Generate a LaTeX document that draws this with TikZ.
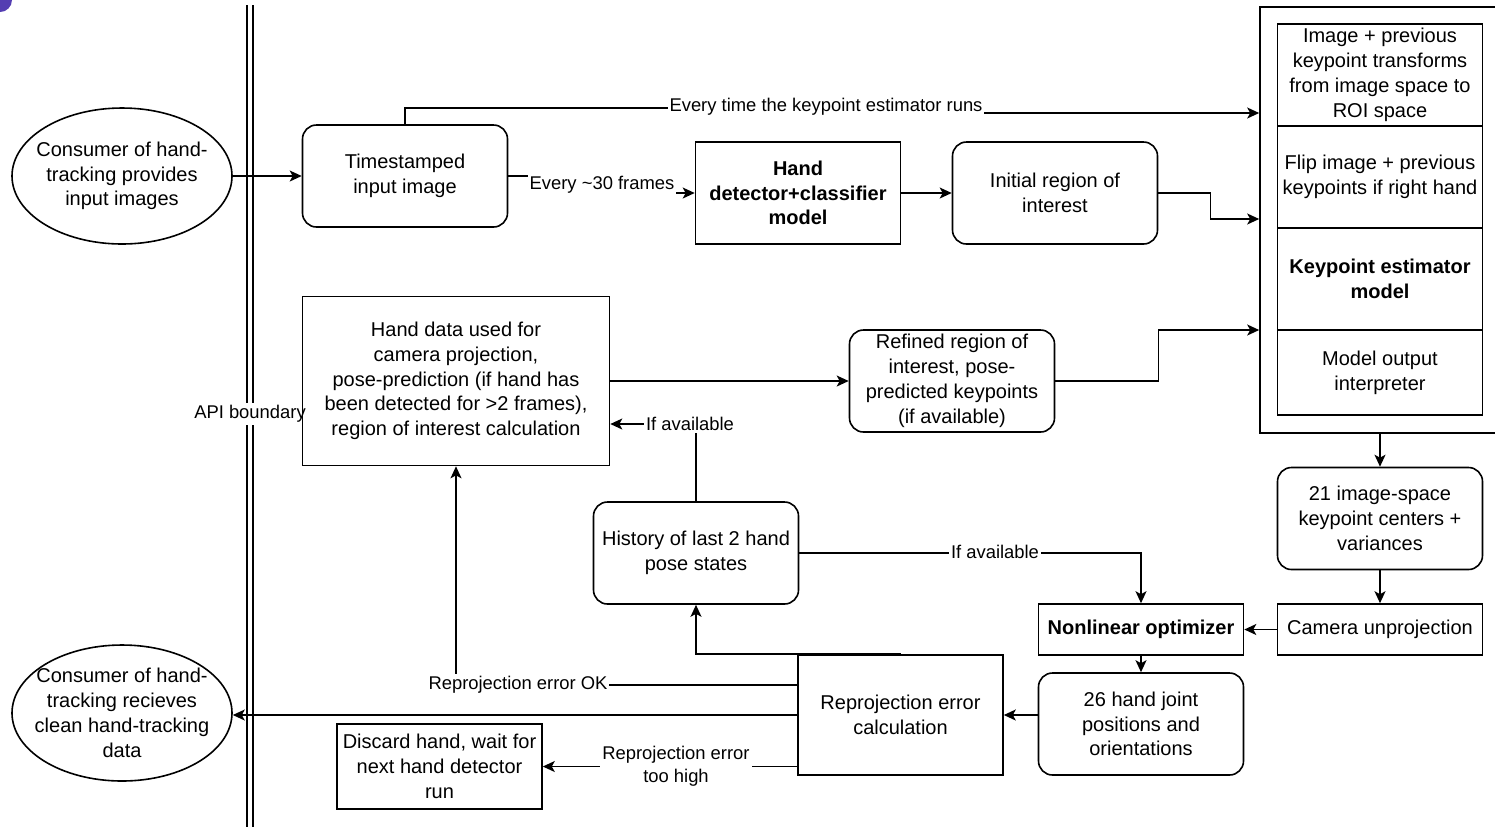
\documentclass[tikz,border=0pt]{standalone}
\usepackage{fontspec}
\setmainfont{Liberation Sans}
\usetikzlibrary{arrows.meta,calc,positioning,shapes.geometric}
\definecolor{cornerpurple}{RGB}{84,62,178}

\begin{document}
\begin{tikzpicture}[x=.5pt,y=-.5pt,font=\fontsize{10}{12.4}\selectfont,
    >={Stealth[length=6pt,width=5.5pt,inset=1.5pt]},line width=.8pt,
    box/.style={draw,align=center,minimum width=102.5pt,minimum height=51pt,inner sep=1pt},
    rbox/.style={box,rounded corners=7pt},
    oval/.style={draw,ellipse,align=center,minimum width=110pt,minimum height=68pt,
      inner xsep=-5.6pt,inner ysep=0pt},
    lbl/.style={fill=white,inner sep=1pt,align=center,font=\fontsize{9.2}{11.4}\selectfont}]
  \useasboundingbox (0,0) rectangle (1495,827);
  \fill[cornerpurple] (0,0) circle (6pt);
  % API boundary
  \draw (247,5) -- (247,827) (253,5) -- (253,827);
  \node[lbl] (api) at (250,414) {API boundary};
  % nodes
  \node[oval] (cin) at (122,176) {Consumer of hand-\\tracking provides\\input images};
  \node[oval] (cout) at (122,713) {Consumer of hand-\\tracking recieves\\clean hand-tracking\\data};
  \node[rbox] (stamp) at (405,176) {Timestamped\\input image};
  \node[box] (detect) at (798,193) {\textbf{Hand}\\\textbf{detector+classifier}\\\textbf{model}};
  \node[rbox] (initroi) at (1055,193) {Initial region of\\interest};
  \node[box,minimum width=153.5pt,minimum height=84.5pt] (handdata) at (456,381)
    {Hand data used for\\camera projection,\\pose-prediction (if hand has\\been detected for >2 frames),\\region of interest calculation};
  \node[rbox] (refined) at (952,381) {Refined region of\\interest, pose-\\predicted keypoints\\(if available)};
  \node[rbox] (history) at (696,553) {History of last 2 hand\\pose states};
  % keypoint estimator stack
  \node[draw,minimum width=120pt,minimum height=213pt,inner sep=0pt] (estim) at (1380,220) {};
  \node[box] (toroi) at (1380,75) {Image + previous\\keypoint transforms\\from image space to\\ROI space};
  \node[box] (flip) at (1380,177) {Flip image + previous\\keypoints if right hand};
  \node[box] (kpmodel) at (1380,279) {\textbf{Keypoint estimator}\\\textbf{model}};
  \node[box,minimum height=42.5pt] (interp) at (1380,372.5) {Model output\\interpreter};
  \node[rbox] (kpts) at (1380,518.5) {21 image-space\\keypoint centers +\\variances};
  \node[box,minimum height=25.5pt] (unproj) at (1380,629.5) {Camera unprojection};
  \node[box,minimum height=25.5pt] (nlopt) at (1141,629.5) {\textbf{Nonlinear optimizer}};
  \node[rbox] (joints) at (1141,724) {26 hand joint\\positions and\\orientations};
  \node[box,minimum height=60pt] (repro) at (900.5,715) {Reprojection error\\calculation};
  \node[box,minimum height=42.5pt] (discard) at (439.5,766.5) {Discard hand, wait for\\next hand detector\\run};
  % connectors
  \draw[->] (cin.east) -- (stamp.west);
  \draw[->] (stamp.east) -- ++(94,0) |- (detect.west);
  \draw[->] (stamp.north) |- (826,108) |- (estim.west |- 0,113);
  \draw[->] (detect) -- (initroi);
  \draw[->] (initroi.east) -- ++(52,0) |- (estim.west |- 0,219);
  \draw[->] (handdata.east) -- (refined.west);
  \draw[->] (refined.east) -- ++(103,0) |- (estim.west |- 0,330);
  \draw[->] (history.north) |- (handdata.east |- 0,424);
  \draw[->] (history.east) -| (nlopt.north);
  \draw[->] (estim.south) -- (kpts.north);
  \draw[->] (kpts) -- (unproj);
  \draw[->] (unproj) -- (nlopt);
  \draw[->] (nlopt) -- (joints);
  \draw[->] (joints.west |- repro.east) -- (repro.east);
  \draw[->] (repro.north) -| (history.south);
  \draw[->] (repro.west |- 0,685) -| (handdata.south);
  \draw[->] (repro.west) -- (repro.west -| cout.east);
  \draw[->] (repro.west |- discard.east) -- (discard.east);
  % connector labels
  \node[lbl] (l30) at (602,185) {Every \textasciitilde30 frames};
  \node[lbl] (levery) at (826,107) {Every time the keypoint estimator runs};
  \node[lbl] (lavail) at (690,424) {If available};
  \node[lbl] (lavail2) at (995,552) {If available};
  \node[lbl] (lok) at (518,685) {Reprojection error OK};
  \node[lbl] (lhigh) at (676,766) {Reprojection error\\too high};
\end{tikzpicture}
\end{document}
